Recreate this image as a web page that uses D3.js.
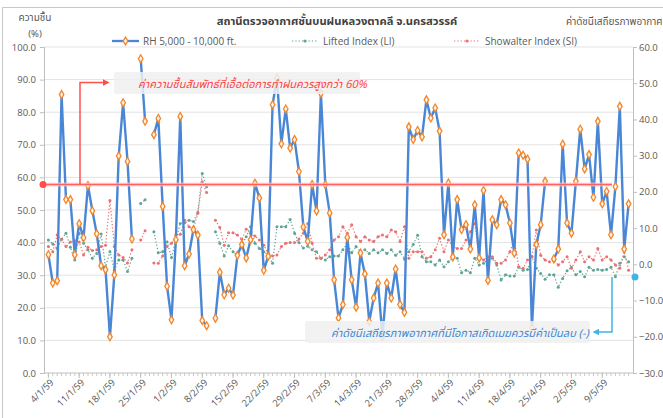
<!DOCTYPE html>
<html><head><meta charset="utf-8">
<script src="https://cdn.jsdelivr.net/npm/d3@7"></script>
<style>
html,body{margin:0;padding:0;background:#fff;}
svg{display:block;font-family:"Noto Sans Thai","Leelawadee UI",Tahoma,"Open Sans","DejaVu Sans",sans-serif;}
</style></head>
<body><svg id="chart" width="663" height="418"></svg>
<script>
// ---- data ----
const startDate = new Date(2016, 0, 4); // 4/1/59 (B.E. 2559)
const nDays = 133;
const tickLabels = ["4/1/59","11/1/59","18/1/59","25/1/59","1/2/59","8/2/59","15/2/59","22/2/59","29/2/59","7/3/59","14/3/59","21/3/59","28/3/59","4/4/59","11/4/59","18/4/59","25/4/59","2/5/59","9/5/59"];
const leftTicks = [0,10,20,30,40,50,60,70,80,90,100];
const rightTicks = [-30,-20,-10,0,10,20,30,40,50,60];
const rh = [36.3,27.6,28.3,85.4,53.2,53.2,36.3,45.8,41.5,57.5, 49.8,42.7,32.9,31.7,11.1,30.1,66.6,82.9,64.9,41.1,
 null,96.4,77.2,null,73.1,78.1,51.1,26.6,16.3,40.9, 78.7,32.9,36.5,44.0,42.3,16.1,14.5,null,16.8,30.9,
 24.0,26.0,23.9,36.1,39.4,35.3,40.9,58.2,53.7,31.5, 35.8,82.3,90.5,70.3,81.0,69.0,71.6,61.8,44.8,40.4,
 57.8,49.7,85.8,57.8,49.1,28.6,16.9,21.0,41.6,28.6, 20.2,36.8,30.4,15.8,23.0,27.6,11.2,27.6,23.0,31.9,
 21.0,18.6,75.5,71.6,74.4,72.4,83.8,78.2,81.3,74.2, 42.4,58.3,35.6,53.2,44.0,45.5,38.0,51.6,35.3,56.0,
 28.4,47.0,45.5,53.2,51.6,46.0,36.8,67.5,66.8,65.6, 13.8,39.4,45.5,58.8,null,35.0,38.0,70.2,46.0,42.9,
 58.8,74.8,62.6,67.0,53.9,77.2,51.9,55.7,42.4,57.2, 81.8,38.0,51.9];
const li = [6.7,5.6,4.4,6.9,8.6,4.7,1.2,8.6,5.8,4.0, 1.7,3.0,8.4,-0.7,3.5,-1.6,1.2,1.2,-2.0,1.7,
 null,16.8,17.8,null,9.0,3.2,3.5,6.2,1.9,6.7, 11.3,11.5,12.2,11.8,14.3,25.1,21.4,null,9.0,5.8,
 2.3,5.1,3.5,2.6,5.3,7.6,10.4,5.8,4.4,3.5, 2.6,0.3,10.4,10.4,10.4,12.4,8.6,6.0,4.5,5.0,
 4.0,3.5,1.7,1.2,2.1,2.3,2.3,4.0,5.8,3.2, 4.9,3.5,4.0,3.0,4.0,3.2,4.0,3.0,4.0,2.5,
 3.5,1.5,3.5,5.5,8.0,2.1,0.7,0.7,-0.2,1.2, -0.7,0.7,1.7,1.7,-2.3,-1.6,-2.3,1.7,-0.2,0.3,
 1.2,1.7,-0.2,-4.3,-2.9,-3.2,-3.2,-0.8,-1.6,-1.4, 2.1,-1.1,-2.5,-4.1,-2.9,-2.9,-6.3,-3.9,-1.8,-0.8,
 -2.9,-2.0,-3.4,-0.8,-1.6,-1.4,-1.6,-1.4,-0.8,-3.4, 0.3,2.1,0.7];
const si = [4.9,3.5,8.1,6.9,4.9,6.2,6.5,6.2,2.6,4.7, 3.8,4.0,4.9,5.3,17.6,4.9,2.6,1.9,0.4,4.0,
 null,6.7,9.3,null,0.4,0.3,2.3,4.9,5.8,8.1, 8.3,12.2,10.4,9.7,14.1,22.8,19.8,null,12.2,10.2,
 5.3,8.7,8.7,8.1,6.9,9.7,8.6,7.8,6.7,5.3, 3.0,2.3,2.6,4.9,5.8,6.0,6.0,7.0,8.6,11.3,
 5.8,1.7,1.7,2.6,4.0,6.7,7.6,10.4,8.6,10.9, 7.6,6.3,7.6,6.7,6.3,7.6,8.1,7.6,9.5,9.0,
 6.3,10.4,1.7,3.5,3.5,3.5,1.7,2.1,4.0,7.2, 3.5,6.7,4.9,4.4,4.4,6.7,9.0,11.3,2.1,1.2,
 2.1,2.1,0.3,0.3,1.2,3.5,6.7,-0.7,-1.1,1.2, 2.1,9.5,2.5,1.2,0.7,1.2,-0.2,0.7,2.1,-1.1,
 1.2,3.5,0.7,2.1,1.2,4.4,1.2,2.1,1.2,-0.2, -1.1,3.5,-1.6];
const rhThreshold = 57.8;   // red guide line (left axis)
const stabThreshold = -3.5; // cyan guide line (right axis)

// ---- chart ----
const svg = d3.select("#chart");
const x = d3.scaleLinear().domain([-1, nDays]).range([44, 633]);
const yL = d3.scaleLinear().domain([0, 100]).range([373, 47]);
const yR = d3.scaleLinear().domain([-30, 60]).range([373, 47]);
const days = d3.range(nDays);
const grey = "#595959";
const latin = "'Open Sans','DejaVu Sans',sans-serif";

const defs = svg.append("defs");
function arrow(id, color){
  defs.append("marker").attr("id", id).attr("viewBox","0 0 10 10").attr("refX",8).attr("refY",5)
   .attr("markerWidth",4.5).attr("markerHeight",4.5).attr("orient","auto")
   .append("path").attr("d","M0,0L10,5L0,10z").attr("fill",color);
}
arrow("arrRed","#ff4d4d"); arrow("arrBlue","#3db5ea");
const shadow = defs.append("filter").attr("id","sh").attr("x","-5%").attr("y","-50%").attr("width","110%").attr("height","200%");
shadow.append("feGaussianBlur").attr("in","SourceAlpha").attr("stdDeviation",1.2).attr("result","b");
shadow.append("feOffset").attr("dy",1.5).attr("dx",1).attr("result","o");
shadow.append("feComponentTransfer").append("feFuncA").attr("type","linear").attr("slope",0.35);
const fm = shadow.append("feMerge"); fm.append("feMergeNode"); fm.append("feMergeNode").attr("in","SourceGraphic");

// outer frame
svg.append("path").attr("d","M2.5,418V7.5H663").attr("fill","none").attr("stroke","#c8c8c8");

// gridlines
svg.append("g").selectAll("line").data(leftTicks.filter(d=>d>0)).join("line")
  .attr("x1",44).attr("x2",633).attr("y1",d=>yL(d)).attr("y2",d=>yL(d))
  .attr("stroke","#e3e3e3").attr("stroke-width",1);

// axes
const axL = svg.append("g").attr("transform","translate(44,0)")
  .call(d3.axisLeft(yL).tickValues(leftTicks).tickFormat(d3.format(".1f")).tickSize(4).tickPadding(4));
const axR = svg.append("g").attr("transform","translate(633,0)")
  .call(d3.axisRight(yR).tickValues(rightTicks).tickFormat(d3.format(".1f")).tickSize(4).tickPadding(2));
[axL, axR].forEach(a=>{
  a.select(".domain").attr("stroke","#bfbfbf");
  a.selectAll(".tick line").attr("stroke","#bfbfbf");
  a.selectAll("text").attr("fill",grey).style("font-family",latin).style("font-size","9.5px");
});
// x axis
const axX = svg.append("g").attr("transform","translate(0,373)");
axX.append("line").attr("x1",44).attr("x2",633).attr("stroke","#bfbfbf");
axX.selectAll("line.minor").data(days).join("line").attr("class","minor")
  .attr("x1",d=>x(d)).attr("x2",d=>x(d)).attr("y1",0).attr("y2",3).attr("stroke","#c8c8c8");
const labelDays = tickLabels.map((t,i)=>i*7);
axX.selectAll("line.major").data(labelDays).join("line").attr("class","major")
  .attr("x1",d=>x(d)).attr("x2",d=>x(d)).attr("y1",0).attr("y2",5).attr("stroke","#bfbfbf");
axX.selectAll("text").data(tickLabels).join("text")
  .attr("transform",(t,i)=>`translate(${x(labelDays[i])+1},5) rotate(-45)`)
  .attr("text-anchor","end").attr("dy","0.75em")
  .attr("fill",grey).style("font-family",latin).style("font-size","9.5px")
  .text(t=>t);

// dotted index series
function dotted(vals, color){
  const line = d3.line().defined(d=>vals[d]!=null).x(d=>x(d)).y(d=>yR(vals[d]));
  svg.append("path").attr("d",line(days)).attr("fill","none").attr("stroke",color)
    .attr("stroke-width",1.2).attr("stroke-dasharray","1.3,2");
  svg.append("g").selectAll("circle").data(days.filter(d=>vals[d]!=null)).join("circle")
    .attr("cx",d=>x(d)).attr("cy",d=>yR(vals[d])).attr("r",1.5).attr("fill",color);
}
dotted(li, "#5fa596");
dotted(si, "#ec7070");

// RH line
const rhLine = d3.line().defined(d=>rh[d]!=null).x(d=>x(d)).y(d=>yL(rh[d]));
svg.append("path").attr("d",rhLine(days)).attr("fill","none").attr("stroke","#4a86d6")
  .attr("stroke-width",2.4).attr("stroke-linejoin","round");
const sym = d3.symbol().type(d3.symbolDiamond).size(18);
svg.append("g").selectAll("path").data(days.filter(d=>rh[d]!=null)).join("path")
  .attr("d",sym).attr("transform",d=>`translate(${x(d)},${yL(rh[d])})`)
  .attr("fill","#fff3e6").attr("stroke","#f2862a").attr("stroke-width",1.3);

// red guide line + arrow
const yr = yL(rhThreshold);
svg.append("line").attr("x1",44).attr("x2",612).attr("y1",yr).attr("y2",yr)
  .attr("stroke","#ffc9c9").attr("stroke-width",4).attr("opacity",0.7);
svg.append("line").attr("x1",44).attr("x2",612).attr("y1",yr).attr("y2",yr)
  .attr("stroke","#ff6060").attr("stroke-width",1.4);
svg.append("circle").attr("cx",43).attr("cy",yr).attr("r",3.5).attr("fill","#ff4d4d");
svg.append("path").attr("d",`M80,${yr}V82.5H108`).attr("fill","none").attr("stroke","#ff5050")
  .attr("stroke-width",1.5).attr("marker-end","url(#arrRed)");

// cyan guide line + arrow
const yc = yR(stabThreshold);
svg.append("line").attr("x1",89).attr("x2",634).attr("y1",yc).attr("y2",yc)
  .attr("stroke","#3db5ea").attr("stroke-width",1.4).attr("filter","url(#sh)");
svg.append("circle").attr("cx",635).attr("cy",yc).attr("r",3.5).attr("fill","#3db5ea");
svg.append("path").attr("d",`M612,${yc}V332H594`).attr("fill","none").attr("stroke","#3db5ea")
  .attr("stroke-width",1.5).attr("marker-end","url(#arrBlue)");

// annotation boxes
svg.append("rect").attr("x",114).attr("y",72).attr("width",246).attr("height",22).attr("rx",2)
  .attr("fill","#f0f0f0").attr("opacity",0.85);
svg.append("text").attr("x",138).attr("y",88).attr("fill","#ff4444").style("font-style","italic")
  .style("font-size","11px").text("ค่าความชื้นสัมพัทธ์ที่เอื้อต่อการทำฝนควรสูงกว่า  60%");
svg.append("rect").attr("x",305).attr("y",321).attr("width",285).attr("height",22).attr("rx",2)
  .attr("fill","#f0f0f0").attr("opacity",0.85);
svg.append("text").attr("x",331).attr("y",337).attr("fill","#3f88d2").style("font-style","italic")
  .style("font-size","11px").text("ค่าดัชนีเสถียรภาพอากาศที่มีโอกาสเกิดเมฆควรมีค่าเป็นลบ  (-)");

// titles
svg.append("text").attr("x",337).attr("y",25).attr("text-anchor","middle").attr("fill","#404040")
  .style("font-size","11.2px").style("font-weight","bold").text("สถานีตรวจอากาศชั้นบนฝนหลวงตาคลี จ.นครสวรรค์");
svg.append("text").attr("x",35).attr("y",21).attr("text-anchor","middle").attr("fill",grey)
  .style("font-size","10px").text("ความชื้น");
svg.append("text").attr("x",35).attr("y",37).attr("text-anchor","middle").attr("fill",grey)
  .style("font-size","9.5px").text("(%)");
svg.append("text").attr("x",566).attr("y",25).attr("fill",grey)
  .style("font-size","10px").text("ค่าดัชนีเสถียรภาพอากาศ");

// legend
const lg = svg.append("g").style("font-size","10px");
lg.append("line").attr("x1",112).attr("x2",139).attr("y1",41).attr("y2",41).attr("stroke","#4a86d6").attr("stroke-width",2.3);
lg.append("path").attr("d",sym).attr("transform","translate(125.5,41)").attr("fill","#fff3e6").attr("stroke","#f2862a").attr("stroke-width",1.3);
lg.append("text").attr("x",143).attr("y",45).attr("fill",grey).style("font-family",latin).text("RH 5,000 - 10,000 ft.");
lg.append("line").attr("x1",292).attr("x2",318).attr("y1",41).attr("y2",41).attr("stroke","#5fa596").attr("stroke-width",1.2).attr("stroke-dasharray","1.3,2");
lg.append("circle").attr("cx",305).attr("cy",41).attr("r",1.6).attr("fill","#5fa596");
lg.append("text").attr("x",323).attr("y",45).attr("fill",grey).style("font-family",latin).text("Lifted Index (LI)");
lg.append("line").attr("x1",454).attr("x2",480).attr("y1",41).attr("y2",41).attr("stroke","#ec7070").attr("stroke-width",1.2).attr("stroke-dasharray","1.3,2");
lg.append("circle").attr("cx",467).attr("cy",41).attr("r",1.6).attr("fill","#ec7070");
lg.append("text").attr("x",485).attr("y",45).attr("fill",grey).style("font-family",latin).text("Showalter Index (SI)");
</script></body></html>
